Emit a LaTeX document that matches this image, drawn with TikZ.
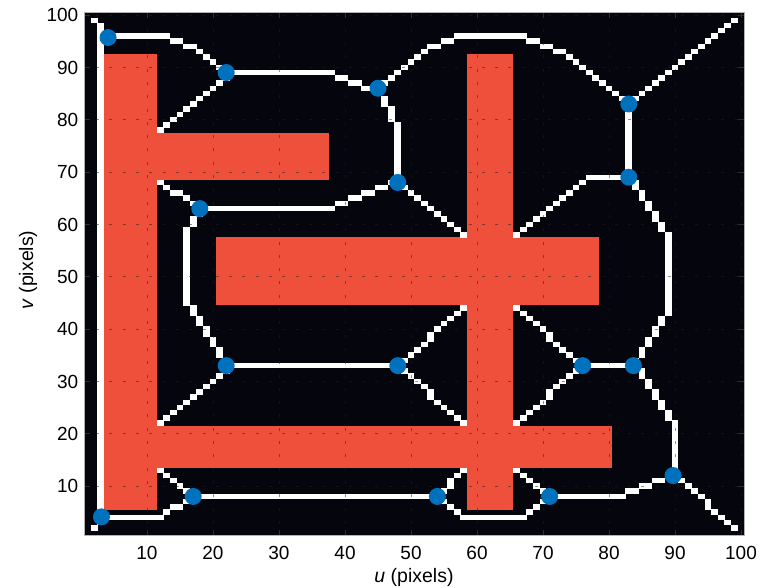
\documentclass[tikz,border=0pt]{standalone}
\usepackage{fontspec}
\setmainfont{Liberation Sans}
\definecolor{obst}{HTML}{EE503C}
\definecolor{dotblue}{HTML}{0072BD}
\definecolor{bgblack}{HTML}{05050E}
\newcommand\cellseg[4]{%
  \pgfmathtruncatemacro\cellN{max(abs((#3)-(#1)),abs((#4)-(#2)))}%
  \foreach \k in {0,...,\cellN}{%
    \pgfmathsetmacro\cellX{round((#1)+((#3)-(#1))*\k/\cellN)}%
    \pgfmathsetmacro\cellY{round((#2)+((#4)-(#2))*\k/\cellN)}%
    \fill[white] (\cellX-0.52,\cellY-0.52) rectangle (\cellX+0.52,\cellY+0.52);
  }%
}
\tikzset{
  obstacle/.style={fill=obst, draw=none},
  gridline/.style={draw=gray!25!black, opacity=0.5, line width=0.8pt, dash pattern=on 3pt off 10.3pt, dash phase=1.5pt},
  tickmark/.style={draw=gray!35!black, line width=0.6pt},
  junction/.style={circle, fill=dotblue, inner sep=0pt, minimum size=17pt},
  ticklab/.style={font=\fontsize{19}{22}\selectfont, inner sep=0pt},
  axlab/.style={font=\fontsize{19.5}{22}\selectfont, inner sep=0pt}
}
\begin{document}
\begin{tikzpicture}[x=1pt,y=1pt]
\useasboundingbox[fill=white] (0,0) rectangle (761,588);
\begin{scope}[shift={(81pt,49.68pt)}, x=6.6pt, y=5.233pt]
  % background
  \fill[bgblack] (0.5,0.5) rectangle (100.5,100.5);
  % obstacles
  \fill[obstacle] (3.5,5.5) rectangle (11.5,92.5);
  \fill[obstacle] (11.5,68.5) rectangle (37.5,77.5);
  \fill[obstacle] (20.5,44.5) rectangle (78.5,57.5);
  \fill[obstacle] (11.5,13.5) rectangle (80.5,21.5);
  \fill[obstacle] (58.5,5.5) rectangle (65.5,92.5);
  % skeleton cells
  \cellseg{2}{99}{3}{98}
  \cellseg{3}{97}{3}{4}
  \cellseg{3}{3}{2}{2}
  \cellseg{4}{96}{12}{96}
  \cellseg{12}{96}{18}{93}
  \cellseg{18}{93}{22}{89}
  \cellseg{4}{4}{12}{4}
  \cellseg{12}{4}{17}{8}
  \cellseg{17}{8}{12}{13}
  \cellseg{17}{8}{54}{8}
  \cellseg{12}{22}{22}{32}
  \cellseg{22}{32}{22}{33}
  \cellseg{22}{33}{48}{33}
  \cellseg{22}{33}{16}{45}
  \cellseg{16}{45}{16}{58}
  \cellseg{16}{58}{18}{63}
  \cellseg{18}{63}{12}{68}
  \cellseg{18}{63}{37}{63}
  \cellseg{37}{63}{48}{68}
  \cellseg{48}{68}{48}{78}
  \cellseg{48}{78}{45}{86}
  \cellseg{22}{89}{37}{89}
  \cellseg{37}{89}{43}{86}
  \cellseg{43}{86}{45}{86}
  \cellseg{12}{78}{22}{88}
  \cellseg{22}{88}{22}{89}
  \cellseg{48}{68}{58}{58}
  \cellseg{48}{33}{58}{44}
  \cellseg{48}{33}{58}{22}
  \cellseg{45}{86}{52}{93}
  \cellseg{52}{93}{58}{96}
  \cellseg{58}{96}{66}{96}
  \cellseg{66}{96}{74}{92}
  \cellseg{74}{92}{83}{83}
  \cellseg{83}{83}{99}{99}
  \cellseg{83}{83}{83}{69}
  \cellseg{83}{69}{77}{69}
  \cellseg{77}{69}{66}{58}
  \cellseg{83}{69}{89}{58}
  \cellseg{89}{58}{89}{44}
  \cellseg{89}{44}{84}{33}
  \cellseg{76}{33}{84}{33}
  \cellseg{76}{33}{66}{44}
  \cellseg{76}{33}{66}{22}
  \cellseg{84}{33}{90}{22}
  \cellseg{90}{22}{90}{12}
  \cellseg{90}{12}{99}{2}
  \cellseg{90}{12}{81}{8}
  \cellseg{81}{8}{71}{8}
  \cellseg{71}{8}{66}{13}
  \cellseg{71}{8}{67}{4}
  \cellseg{67}{4}{58}{4}
  \cellseg{58}{4}{54}{8}
  \cellseg{54}{8}{58}{13}
  % grid and ticks
  \foreach \g in {10,20,...,100}{
    \draw[gridline] (\g,0.5) -- (\g,100.5);
    \draw[gridline] (0.5,\g) -- (100.5,\g);
    \draw[tickmark] (\g,0.5) -- ++(0,6pt);
    \draw[tickmark] (\g,100.5) -- ++(0,-6pt);
    \draw[tickmark] (0.5,\g) -- ++(6pt,0);
    \draw[tickmark] (100.5,\g) -- ++(-6pt,0);
    \node[ticklab, anchor=base, yshift=-24.3pt] (xl\g) at (\g,0.5) {\g};
    \node[ticklab, anchor=base east, xshift=-5.8pt, yshift=-6.8pt] (yl\g) at (0.5,\g) {\g};
  }
  % axes box
  \draw[gray!60, line width=0.8pt] (0.5,0.5) rectangle (100.5,100.5);
  % junctions
  \node[junction] (d1) at (4.1,95.7) {};
  \node[junction] (d2) at (22,89) {};
  \node[junction] (d3) at (45,86) {};
  \node[junction] (d4) at (83,83) {};
  \node[junction] (d5) at (83,69) {};
  \node[junction] (d6) at (48,68) {};
  \node[junction] (d7) at (18,63) {};
  \node[junction] (d8) at (22,33) {};
  \node[junction] (d9) at (48,33) {};
  \node[junction] (d10) at (76,33) {};
  \node[junction] (d11) at (83.7,33) {};
  \node[junction] (d12) at (89.7,12) {};
  \node[junction] (d13) at (71,8) {};
  \node[junction] (d14) at (54,8) {};
  \node[junction] (d15) at (17,8) {};
  \node[junction] (d16) at (3.1,4.1) {};
\end{scope}
\node[axlab, anchor=base] (ulab) at (414,5) {\textit{u} (pixels)};
\node[axlab, anchor=base, rotate=90] (vlab) at (33,318) {\textit{v} (pixels)};
\end{tikzpicture}
\end{document}
